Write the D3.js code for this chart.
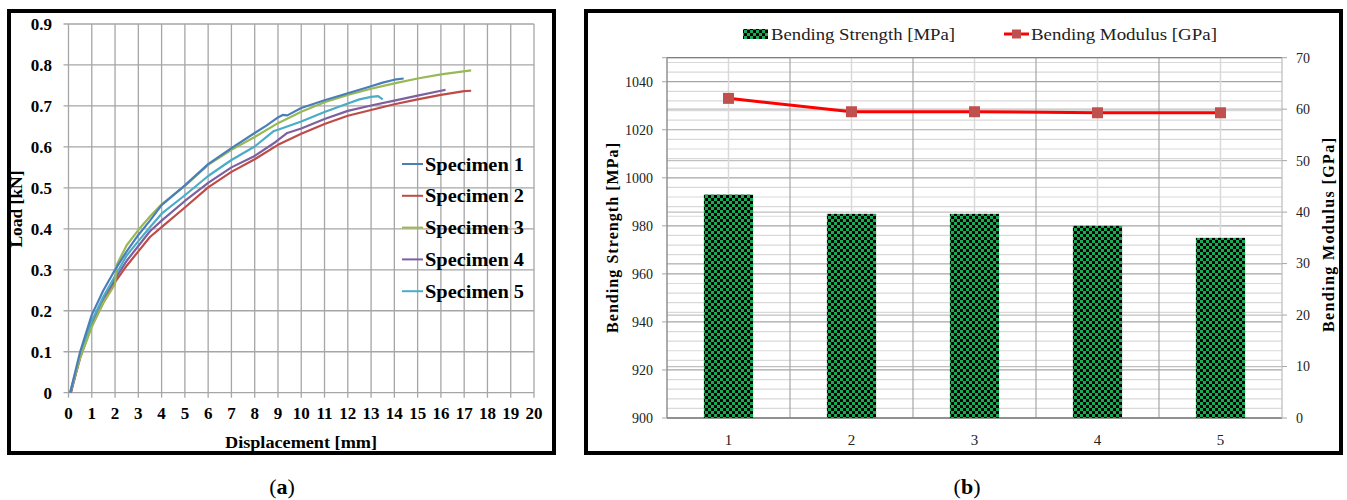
<!DOCTYPE html>
<html><head><meta charset="utf-8">
<script src="https://cdn.jsdelivr.net/npm/d3@7"></script>
<style>html,body{margin:0;padding:0;background:#fff;}svg{display:block;}</style>
</head><body>
<script>
// ---------- Data: panel (a) ----------
const specimenNames = ["Specimen 1","Specimen 2","Specimen 3","Specimen 4","Specimen 5"];
const specimenColors = ["#4a7ebb","#be4b48","#98b954","#7d60a0","#4bacc6"];
const spec1 = [[0.07,0],[0.5,0.1],[1,0.19],[1.5,0.25],[2,0.3],[2.5,0.345],[3,0.385],[3.5,0.42],[4,0.458],[5,0.506],[6,0.558],[7,0.597],[8,0.634],[8.5,0.652],[9,0.672],[9.2,0.678],[9.4,0.677],[10,0.695],[11,0.714],[12,0.731],[13,0.748],[13.5,0.757],[14,0.764],[14.4,0.767]];
const spec2 = [[0.1,0],[0.5,0.085],[1,0.165],[1.5,0.22],[2,0.27],[2.5,0.31],[3,0.345],[3.5,0.38],[4,0.404],[5,0.452],[6,0.501],[7,0.539],[8,0.57],[9,0.605],[10,0.632],[11,0.656],[12,0.676],[13,0.69],[14,0.704],[15,0.716],[16,0.727],[17,0.736],[17.3,0.737]];
const spec3 = [[0.07,0],[0.5,0.085],[1,0.16],[1.5,0.22],[2,0.265],[2.07,0.312],[2.5,0.36],[3,0.397],[3.5,0.43],[4,0.46],[5,0.505],[6,0.556],[7,0.593],[8,0.624],[9,0.658],[10,0.686],[11,0.709],[12,0.727],[13,0.742],[14,0.755],[15,0.767],[16,0.777],[17.3,0.787]];
const spec4 = [[0.1,0],[0.5,0.09],[1,0.17],[1.5,0.23],[2,0.278],[2.5,0.322],[3,0.358],[3.5,0.394],[4,0.42],[5,0.468],[6,0.512],[7,0.55],[8,0.578],[8.9,0.612],[9.4,0.634],[10,0.645],[11,0.668],[12,0.688],[13,0.701],[14,0.713],[15,0.725],[16,0.737],[16.2,0.739]];
const spec5 = [[0.07,0],[0.5,0.09],[1,0.175],[1.5,0.235],[2,0.285],[2.5,0.335],[3,0.37],[3.5,0.404],[4,0.437],[5,0.482],[6,0.529],[7,0.568],[8,0.601],[8.8,0.638],[9,0.642],[10,0.662],[11,0.685],[12,0.706],[12.5,0.716],[13,0.722],[13.3,0.724],[13.5,0.716]];
const xTicksA = d3.range(0, 21, 1);
const yTicksA = d3.range(0, 0.91, 0.1);

// ---------- Data: panel (b) ----------
const samples = ["1","2","3","4","5"];
const bendingStrength = [993, 985, 985, 980, 975];
const bendingModulus = [62.1, 59.5, 59.5, 59.3, 59.3];
const strengthTicks = [900,920,940,960,980,1000,1020,1040];
const modulusTicks = [0,10,20,30,40,50,60,70];

const W = 1347, H = 500;
const svg = d3.select("body").append("svg").attr("width", W).attr("height", H);
const serif = "'Liberation Serif','DejaVu Serif',serif";

// checker pattern
const defs = svg.append("defs");
const pat = defs.append("pattern").attr("id","checker").attr("patternUnits","userSpaceOnUse")
  .attr("width",6).attr("height",6);
pat.append("rect").attr("width",6).attr("height",6).attr("fill","#000");
pat.append("rect").attr("x",0).attr("y",0).attr("width",3).attr("height",3).attr("fill","#1aab55");
pat.append("rect").attr("x",3).attr("y",3).attr("width",3).attr("height",3).attr("fill","#1aab55");

// ================= Panel (a) =================
const ga = svg.append("g");
const xA = d3.scaleLinear().domain([0,20]).range([68.5,534]);
const yA = d3.scaleLinear().domain([0,0.9]).range([392.7,24]);

// grid
ga.append("g").selectAll("line").data(xTicksA).join("line")
  .attr("x1",d=>xA(d)).attr("x2",d=>xA(d)).attr("y1",yA(0)).attr("y2",yA(0.9))
  .attr("stroke","#a6a6a6").attr("stroke-width",1.3);
ga.append("g").selectAll("line").data(yTicksA).join("line")
  .attr("x1",xA(0)-5).attr("x2",xA(20)).attr("y1",d=>yA(d)).attr("y2",d=>yA(d))
  .attr("stroke","#a6a6a6").attr("stroke-width",1.3);
// x tick marks
ga.append("g").selectAll("line").data(xTicksA).join("line")
  .attr("x1",d=>xA(d)).attr("x2",d=>xA(d)).attr("y1",yA(0)).attr("y2",yA(0)+5)
  .attr("stroke","#a6a6a6").attr("stroke-width",1.3);

// tick labels
ga.append("g").selectAll("text").data(yTicksA).join("text")
  .attr("x",52).attr("y",d=>yA(d)).attr("dy","0.35em").attr("text-anchor","end")
  .attr("font-family",serif).attr("font-weight","bold").attr("font-size",17)
  .text(d=> d===0 ? "0" : d3.format(".1f")(d));
ga.append("g").selectAll("text").data(xTicksA).join("text")
  .attr("x",d=>xA(d)).attr("y",419).attr("text-anchor","middle")
  .attr("font-family",serif).attr("font-weight","bold").attr("font-size",17)
  .text(d=>d);
ga.append("text").attr("x",301).attr("y",448).attr("text-anchor","middle")
  .attr("font-family",serif).attr("font-weight","bold").attr("font-size",17)
  .attr("textLength",152).attr("lengthAdjust","spacingAndGlyphs").text("Displacement [mm]");
ga.append("text").attr("transform","translate(22,209) rotate(-90)").attr("text-anchor","middle")
  .attr("font-family",serif).attr("font-weight","bold").attr("font-size",17)
  .attr("textLength",77).attr("lengthAdjust","spacingAndGlyphs").text("Load [kN]");

// curves
const specs = [spec1,spec2,spec3,spec4,spec5];
const lineA = d3.line().x(d=>xA(d[0])).y(d=>yA(d[1]));
// draw in order so blue/green on top like reference
const drawOrder = [1,3,4,2,0];
drawOrder.forEach(i=>{
  ga.append("path").datum(specs[i]).attr("d",lineA).attr("fill","none")
    .attr("stroke",specimenColors[i]).attr("stroke-width",2.2).attr("stroke-linejoin","round");
});

// legend
const legA = ga.append("g");
specimenNames.forEach((n,i)=>{
  const y = 164 + i*31.8;
  legA.append("line").attr("x1",402).attr("x2",423).attr("y1",y).attr("y2",y)
    .attr("stroke",specimenColors[i]).attr("stroke-width",2);
  legA.append("text").attr("x",425).attr("y",y).attr("dy","0.35em")
    .attr("font-family",serif).attr("font-weight","bold").attr("font-size",19)
    .attr("textLength",99).attr("lengthAdjust","spacingAndGlyphs").text(n);
});

// frame
ga.append("rect").attr("x",9).attr("y",11).attr("width",545).attr("height",442)
  .attr("fill","none").attr("stroke","#000").attr("stroke-width",4);

// ================= Panel (b) =================
const gb = svg.append("g");
const xB = d3.scaleBand().domain(samples).range([667,1282]).paddingInner(0.6).paddingOuter(0.3);
const step = xB.step();
const yL = d3.scaleLinear().domain([900,1050]).range([418,57.7]);
const yR = d3.scaleLinear().domain([0,70]).range([418,57.7]);

// minor horizontal grid (left axis every 4)
const minorL = d3.range(904, 1050, 4).filter(v=> (v-900)%20 !== 0);
gb.append("g").selectAll("line").data(minorL).join("line")
  .attr("x1",667).attr("x2",1282).attr("y1",d=>yL(d)).attr("y2",d=>yL(d))
  .attr("stroke","#d9d9d9").attr("stroke-width",1.2);
// right axis grid
gb.append("g").selectAll("line").data(modulusTicks).join("line")
  .attr("x1",667).attr("x2",1282).attr("y1",d=>yR(d)).attr("y2",d=>yR(d))
  .attr("stroke","#c0c0c0").attr("stroke-width",1.2);
// left major grid
gb.append("g").selectAll("line").data(strengthTicks).join("line")
  .attr("x1",667).attr("x2",1282).attr("y1",d=>yL(d)).attr("y2",d=>yL(d))
  .attr("stroke","#a6a6a6").attr("stroke-width",1.2);
// vertical grid: centers (light) and boundaries (darker)
gb.append("g").selectAll("line").data(samples).join("line")
  .attr("x1",d=>xB(d)+xB.bandwidth()/2).attr("x2",d=>xB(d)+xB.bandwidth()/2)
  .attr("y1",yL(1050)).attr("y2",yL(900)).attr("stroke","#d9d9d9").attr("stroke-width",1.5);
gb.append("g").selectAll("line").data(samples.slice(1)).join("line")
  .attr("x1",d=>xB(d)+xB.bandwidth()/2-step/2).attr("x2",d=>xB(d)+xB.bandwidth()/2-step/2)
  .attr("y1",yL(1050)).attr("y2",yL(900)).attr("stroke","#a6a6a6").attr("stroke-width",1.2);
// plot border lines
gb.append("line").attr("x1",667).attr("x2",1282).attr("y1",yL(1050)).attr("y2",yL(1050)).attr("stroke","#808080").attr("stroke-width",1.3);
gb.append("line").attr("x1",667).attr("x2",1282).attr("y1",yL(900)).attr("y2",yL(900)).attr("stroke","#808080").attr("stroke-width",1.3);
gb.append("line").attr("x1",667).attr("x2",667).attr("y1",yL(1050)).attr("y2",yL(900)).attr("stroke","#808080").attr("stroke-width",1.3);
gb.append("line").attr("x1",1282).attr("x2",1282).attr("y1",yL(1050)).attr("y2",yL(900)).attr("stroke","#c0c0c0").attr("stroke-width",1.3);

// bars
gb.append("g").selectAll("rect").data(samples).join("rect")
  .attr("x",d=>xB(d)).attr("width",xB.bandwidth())
  .attr("y",(d,i)=>yL(bendingStrength[i])).attr("height",(d,i)=>yL(900)-yL(bendingStrength[i]))
  .attr("fill","url(#checker)");

// modulus line
const lineB = d3.line().x((d,i)=>xB(samples[i])+xB.bandwidth()/2).y(d=>yR(d));
gb.append("path").datum(bendingModulus).attr("d",lineB).attr("fill","none")
  .attr("stroke","#ff0000").attr("stroke-width",3);
gb.append("g").selectAll("rect").data(bendingModulus).join("rect")
  .attr("x",(d,i)=>xB(samples[i])+xB.bandwidth()/2-5.5).attr("y",d=>yR(d)-5.5)
  .attr("width",11).attr("height",11).attr("fill","#c0504d");

// axes ticks & labels
gb.append("g").selectAll("line").data(strengthTicks.concat([1050])).join("line")
  .attr("x1",662).attr("x2",667).attr("y1",d=>yL(d)).attr("y2",d=>yL(d)).attr("stroke","#a6a6a6");
gb.append("g").selectAll("line").data(modulusTicks).join("line")
  .attr("x1",1282).attr("x2",1287).attr("y1",d=>yR(d)).attr("y2",d=>yR(d)).attr("stroke","#a6a6a6");
gb.append("g").selectAll("text").data(strengthTicks).join("text")
  .attr("x",653).attr("y",d=>yL(d)).attr("dy","0.35em").attr("text-anchor","end")
  .attr("font-family",serif).attr("font-size",14).attr("fill","#222").text(d=>d);
gb.append("g").selectAll("text").data(modulusTicks).join("text")
  .attr("x",1296).attr("y",d=>yR(d)).attr("dy","0.35em").attr("text-anchor","start")
  .attr("font-family",serif).attr("font-size",14).attr("fill","#222").text(d=>d);
gb.append("g").selectAll("text").data(samples).join("text")
  .attr("x",d=>xB(d)+xB.bandwidth()/2).attr("y",440).attr("dy","0.35em").attr("text-anchor","middle")
  .attr("font-family",serif).attr("font-size",15).attr("fill","#222").text(d=>d);

// axis titles
gb.append("text").attr("transform","translate(612,238) rotate(-90)").attr("text-anchor","middle").attr("dy","0.35em")
  .attr("font-family",serif).attr("font-weight","bold").attr("font-size",16)
  .attr("textLength",190).attr("lengthAdjust","spacing").text("Bending Strength [MPa]");
gb.append("text").attr("transform","translate(1328,235) rotate(-90)").attr("text-anchor","middle").attr("dy","0.35em")
  .attr("font-family",serif).attr("font-weight","bold").attr("font-size",16)
  .attr("textLength",194).attr("lengthAdjust","spacing").text("Bending Modulus [GPa]");

// legend
gb.append("rect").attr("x",743).attr("y",29).attr("width",25).attr("height",10).attr("fill","url(#checker)");
gb.append("text").attr("x",771).attr("y",34).attr("dy","0.35em")
  .attr("font-family",serif).attr("font-size",17).attr("fill","#222")
  .attr("textLength",184).attr("lengthAdjust","spacingAndGlyphs").text("Bending Strength [MPa]");
gb.append("line").attr("x1",1004).attr("x2",1029).attr("y1",34).attr("y2",34).attr("stroke","#ff0000").attr("stroke-width",3);
gb.append("rect").attr("x",1012).attr("y",29.5).attr("width",9).attr("height",9).attr("fill","#c0504d");
gb.append("text").attr("x",1031).attr("y",34).attr("dy","0.35em")
  .attr("font-family",serif).attr("font-size",17).attr("fill","#222")
  .attr("textLength",186).attr("lengthAdjust","spacingAndGlyphs").text("Bending Modulus [GPa]");

// frame
gb.append("rect").attr("x",586).attr("y",11).attr("width",755).attr("height",442)
  .attr("fill","none").attr("stroke","#000").attr("stroke-width",4);

// captions
const caps = [{x:282,t:"a"},{x:967,t:"b"}];
caps.forEach(c=>{
  const t = svg.append("text").attr("x",c.x).attr("y",494).attr("text-anchor","middle")
    .attr("font-family",serif).attr("font-size",22);
  t.append("tspan").text("(");
  t.append("tspan").attr("font-weight","bold").text(c.t);
  t.append("tspan").text(")");
});
</script>
</body></html>
